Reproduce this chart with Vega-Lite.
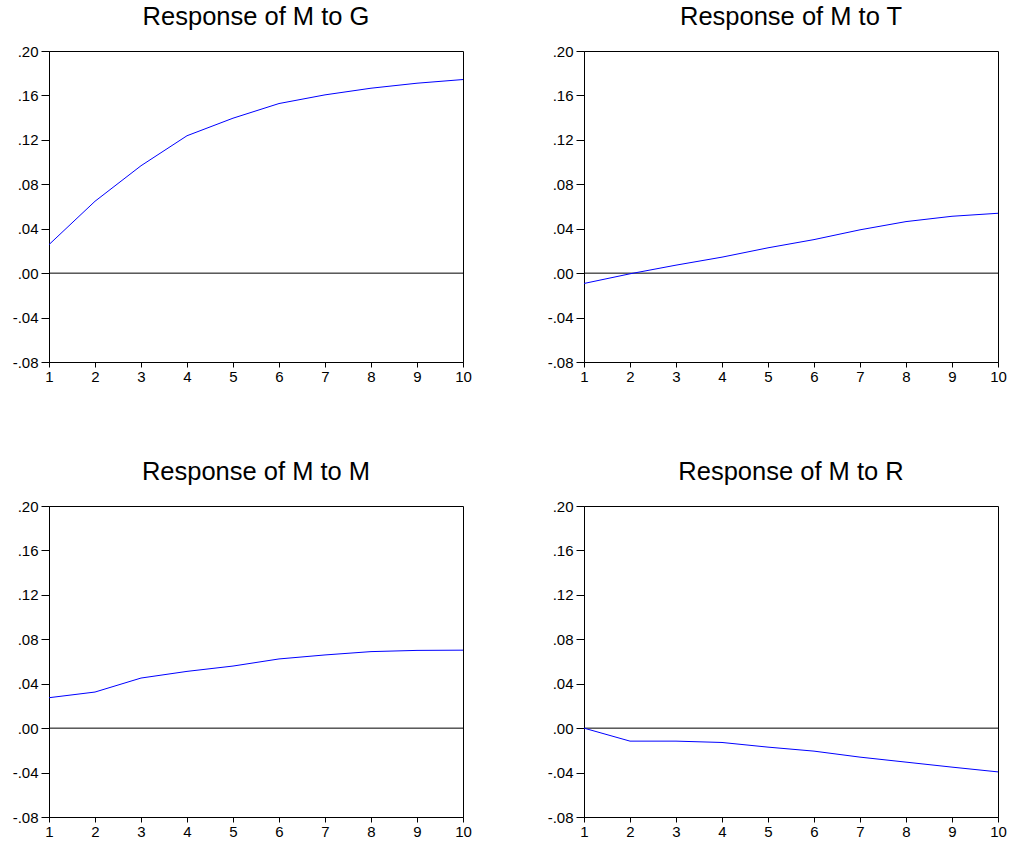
{
  "$schema": "https://vega.github.io/schema/vega-lite/v6.json",
  "autosize": {"type": "pad"},
  "padding": {"left": 11, "top": 4, "right": 0, "bottom": 0},
  "background": "white",
  "data": {
    "values": [
      {"panel": "G", "step": 1, "value": 0.0257},
      {"panel": "G", "step": 2, "value": 0.0647},
      {"panel": "G", "step": 3, "value": 0.0967},
      {"panel": "G", "step": 4, "value": 0.1237},
      {"panel": "G", "step": 5, "value": 0.1395},
      {"panel": "G", "step": 6, "value": 0.1527},
      {"panel": "G", "step": 7, "value": 0.1605},
      {"panel": "G", "step": 8, "value": 0.1665},
      {"panel": "G", "step": 9, "value": 0.171},
      {"panel": "G", "step": 10, "value": 0.1743},
      {"panel": "T", "step": 1, "value": -0.0093},
      {"panel": "T", "step": 2, "value": -0.0006},
      {"panel": "T", "step": 3, "value": 0.0072},
      {"panel": "T", "step": 4, "value": 0.0144},
      {"panel": "T", "step": 5, "value": 0.0228},
      {"panel": "T", "step": 6, "value": 0.0302},
      {"panel": "T", "step": 7, "value": 0.039},
      {"panel": "T", "step": 8, "value": 0.0464},
      {"panel": "T", "step": 9, "value": 0.0512},
      {"panel": "T", "step": 10, "value": 0.0539},
      {"panel": "M", "step": 1, "value": 0.0274},
      {"panel": "M", "step": 2, "value": 0.0325},
      {"panel": "M", "step": 3, "value": 0.0451},
      {"panel": "M", "step": 4, "value": 0.0511},
      {"panel": "M", "step": 5, "value": 0.0559},
      {"panel": "M", "step": 6, "value": 0.0623},
      {"panel": "M", "step": 7, "value": 0.0659},
      {"panel": "M", "step": 8, "value": 0.0689},
      {"panel": "M", "step": 9, "value": 0.0700},
      {"panel": "M", "step": 10, "value": 0.0702},
      {"panel": "R", "step": 1, "value": 0.0},
      {"panel": "R", "step": 2, "value": -0.0117},
      {"panel": "R", "step": 3, "value": -0.0117},
      {"panel": "R", "step": 4, "value": -0.0129},
      {"panel": "R", "step": 5, "value": -0.0171},
      {"panel": "R", "step": 6, "value": -0.0207},
      {"panel": "R", "step": 7, "value": -0.0261},
      {"panel": "R", "step": 8, "value": -0.0306},
      {"panel": "R", "step": 9, "value": -0.0351},
      {"panel": "R", "step": 10, "value": -0.0394}
    ]
  },
  "columns": 2,
  "spacing": {"row": 144, "column": 121},
  "bounds": "flush",
  "concat": [
    {
      "title": {"text": "Response of M to G"},
      "width": 414, "height": 311,
      "layer": [
        {
          "data": {"values": [{"ref": 0}]},
          "mark": {"type": "rule", "color": "black", "strokeWidth": 1},
          "encoding": {"y": {"field": "ref", "type": "quantitative", "scale": {"domain": [-0.08, 0.2], "nice": false, "zero": false}}}
        },
        {
          "transform": [{"filter": "datum.panel === 'G'"}],
          "mark": {"type": "line", "color": "#0000ff", "strokeWidth": 1},
          "encoding": {
            "x": {"field": "step", "type": "quantitative", "scale": {"domain": [1, 10], "nice": false, "zero": false}, "axis": {"values": [1,2,3,4,5,6,7,8,9,10], "format": "d"}},
            "y": {"field": "value", "type": "quantitative", "scale": {"domain": [-0.08, 0.2], "nice": false, "zero": false}, "axis": {"values": [-0.08,-0.04,0,0.04,0.08,0.12,0.16,0.2]}}
          }
        }
      ]
    },
    {
      "title": {"text": "Response of M to T"},
      "width": 414, "height": 311,
      "layer": [
        {
          "data": {"values": [{"ref": 0}]},
          "mark": {"type": "rule", "color": "black", "strokeWidth": 1},
          "encoding": {"y": {"field": "ref", "type": "quantitative", "scale": {"domain": [-0.08, 0.2], "nice": false, "zero": false}}}
        },
        {
          "transform": [{"filter": "datum.panel === 'T'"}],
          "mark": {"type": "line", "color": "#0000ff", "strokeWidth": 1},
          "encoding": {
            "x": {"field": "step", "type": "quantitative", "scale": {"domain": [1, 10], "nice": false, "zero": false}, "axis": {"values": [1,2,3,4,5,6,7,8,9,10], "format": "d"}},
            "y": {"field": "value", "type": "quantitative", "scale": {"domain": [-0.08, 0.2], "nice": false, "zero": false}, "axis": {"values": [-0.08,-0.04,0,0.04,0.08,0.12,0.16,0.2]}}
          }
        }
      ]
    },
    {
      "title": {"text": "Response of M to M"},
      "width": 414, "height": 311,
      "layer": [
        {
          "data": {"values": [{"ref": 0}]},
          "mark": {"type": "rule", "color": "black", "strokeWidth": 1},
          "encoding": {"y": {"field": "ref", "type": "quantitative", "scale": {"domain": [-0.08, 0.2], "nice": false, "zero": false}}}
        },
        {
          "transform": [{"filter": "datum.panel === 'M'"}],
          "mark": {"type": "line", "color": "#0000ff", "strokeWidth": 1},
          "encoding": {
            "x": {"field": "step", "type": "quantitative", "scale": {"domain": [1, 10], "nice": false, "zero": false}, "axis": {"values": [1,2,3,4,5,6,7,8,9,10], "format": "d"}},
            "y": {"field": "value", "type": "quantitative", "scale": {"domain": [-0.08, 0.2], "nice": false, "zero": false}, "axis": {"values": [-0.08,-0.04,0,0.04,0.08,0.12,0.16,0.2]}}
          }
        }
      ]
    },
    {
      "title": {"text": "Response of M to R"},
      "width": 414, "height": 311,
      "layer": [
        {
          "data": {"values": [{"ref": 0}]},
          "mark": {"type": "rule", "color": "black", "strokeWidth": 1},
          "encoding": {"y": {"field": "ref", "type": "quantitative", "scale": {"domain": [-0.08, 0.2], "nice": false, "zero": false}}}
        },
        {
          "transform": [{"filter": "datum.panel === 'R'"}],
          "mark": {"type": "line", "color": "#0000ff", "strokeWidth": 1},
          "encoding": {
            "x": {"field": "step", "type": "quantitative", "scale": {"domain": [1, 10], "nice": false, "zero": false}, "axis": {"values": [1,2,3,4,5,6,7,8,9,10], "format": "d"}},
            "y": {"field": "value", "type": "quantitative", "scale": {"domain": [-0.08, 0.2], "nice": false, "zero": false}, "axis": {"values": [-0.08,-0.04,0,0.04,0.08,0.12,0.16,0.2]}}
          }
        }
      ]
    }
  ],
  "config": {
    "font": "Liberation Sans",
    "view": {"stroke": "black", "strokeWidth": 1},
    "axis": {
      "grid": false,
      "title": null,
      "domainColor": "black",
      "tickColor": "black",
      "labelColor": "black",
      "labelFont": "Liberation Sans"
    },
    "axisX": {"tickSize": 5, "labelPadding": 2, "labelFontSize": 15, "labelFlush": false, "labelOverlap": false},
    "axisY": {
      "tickSize": 8, "labelPadding": 3, "labelFontSize": 15, "labelOverlap": false,
      "labelExpr": "(datum.value < 0 ? '-' : '') + replace(format(abs(datum.value), '.2f'), '0.', '.')"
    },
    "title": {
      "font": "Liberation Sans",
      "fontSize": 25.5,
      "fontWeight": "normal",
      "color": "black",
      "anchor": "middle",
      "baseline": "alphabetic",
      "offset": 14
    }
  }
}
